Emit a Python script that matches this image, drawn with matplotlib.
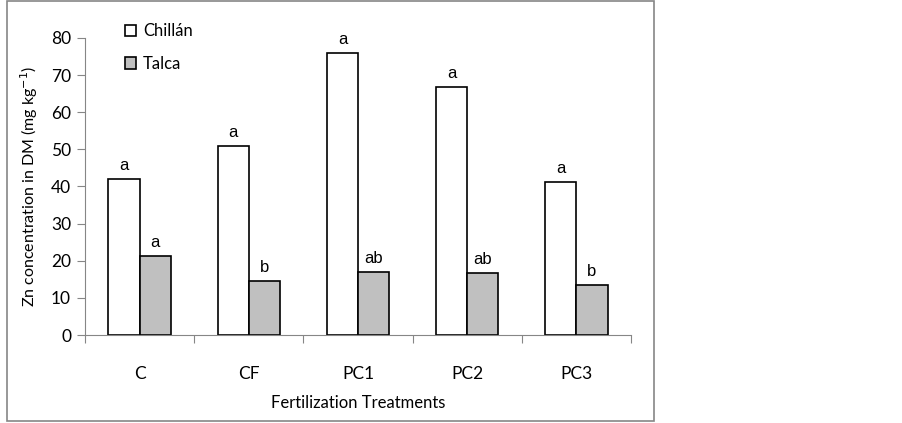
import numpy as np
import matplotlib.pyplot as plt
from matplotlib.patches import Rectangle

treatments = ['C', 'CF', 'PC1', 'PC2', 'PC3']
chillan = [42.0, 50.9, 75.9, 66.9, 41.3]
talca = [21.2, 14.5, 17.1, 16.8, 13.4]
chillan_letters = ['a', 'a', 'a', 'a', 'a']
talca_letters = ['a', 'b', 'ab', 'ab', 'b']

lab_font = 'Lato'
let_font = 'Liberation Sans'
grey = '#868686'

fig = plt.figure(figsize=(9.02, 4.23), dpi=100)
# outer frame of the chart object
fig.patches.append(Rectangle((7/902, 1 - 421/423), (654-7)/902, (421-1)/423,
                             transform=fig.transFigure, fill=False,
                             edgecolor=grey, linewidth=1.2))

ax = fig.add_axes([85/902, 1 - 335/423, (631-85)/902, (335-38)/423])
x = np.arange(len(treatments))
w = 0.285
ax.bar(x - w/2, chillan, w, color='white', edgecolor='black', linewidth=1.2, label='Chillán')
ax.bar(x + w/2, talca, w, color='#c0c0c0', edgecolor='black', linewidth=1.2, label='Talca')

for i in range(len(treatments)):
  ax.text(x[i] - w/2, chillan[i] + 1.6, chillan_letters[i], ha='center', va='bottom',
          fontsize=12, family=let_font)
  ax.text(x[i] + w/2, talca[i] + 1.6, talca_letters[i], ha='center', va='bottom',
          fontsize=12, family=let_font)

ax.set_xlim(-0.5, len(treatments) - 0.5)
ax.set_ylim(0, 80)
ax.set_yticks(np.arange(0, 81, 10))
ax.set_xticks(np.arange(-0.5, len(treatments), 1.0))
ax.set_xticks(x, minor=True)
ax.set_xticklabels([])
ax.set_xticklabels(treatments, minor=True, fontsize=12.5, family=lab_font)
ax.tick_params(axis='x', which='minor', length=0, pad=22)
ax.tick_params(axis='x', which='major', length=6, color=grey, direction='out')
ax.tick_params(axis='y', length=6, color=grey, labelsize=12.5, pad=4)
for t in ax.get_yticklabels():
  t.set_family(lab_font)
for s in ['top', 'right']:
  ax.spines[s].set_visible(False)
ax.spines['left'].set_color(grey)
ax.spines['bottom'].set_color(grey)

ax.set_ylabel('Zn concentration in DM (mg kg$^{-1}$)', fontsize=11.5, family=lab_font, labelpad=8)
ax.set_xlabel('Fertilization Treatments', fontsize=12, family=lab_font, labelpad=10)

ax.legend(loc='upper left', bbox_to_anchor=(0.045, 1.1), frameon=False,
          prop={'family': lab_font, 'size': 12}, handlelength=0.7, handleheight=0.7,
          handletextpad=0.4, labelspacing=1.0)

fig.savefig('out.png', dpi=100)
